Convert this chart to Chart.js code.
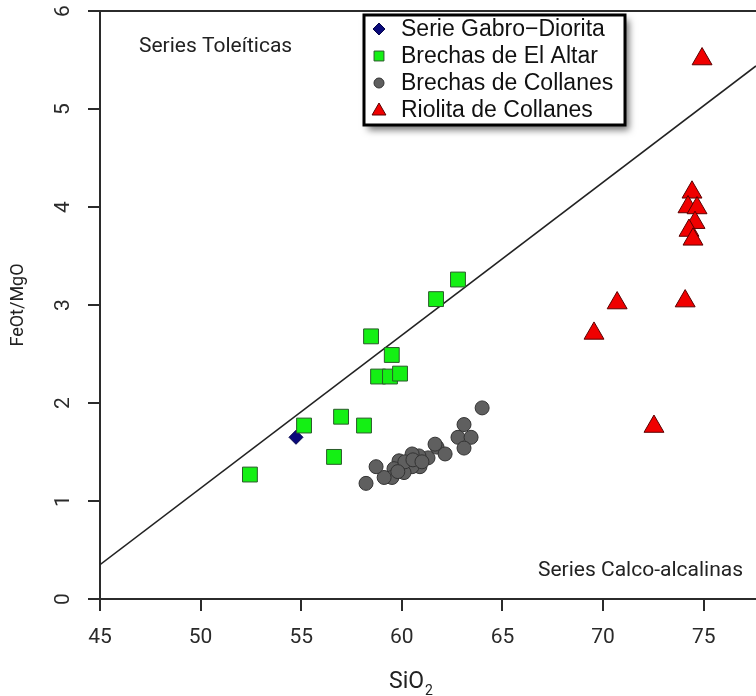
<!DOCTYPE html>
<html>
<head>
<meta charset="utf-8">
<style>
  html, body { margin: 0; padding: 0; background: #fff; overflow: hidden; }
  #wrap { width: 756px; height: 696px; position: relative; }
  #chart { display: block; }
</style>
<script src="https://cdn.jsdelivr.net/npm/chart.js"></script>
</head>
<body>
<div id="wrap"><canvas id="chart"></canvas></div>
<script>
// SiO2 vs FeOt/MgO (Miyashiro diagram)
const xTicks = [45, 50, 55, 60, 65, 70, 75];
const yTicks = [0, 1, 2, 3, 4, 5, 6];

// dividing line between tholeiitic and calc-alkaline series (endpoints)
const lineX = [45, 77.6];
const lineY = [0.35, 5.44];

const gabroX = [54.74];
const gabroY = [1.65];

const altarX = [52.45, 55.14, 56.63, 56.98, 58.12, 58.47, 58.82, 59.50, 59.41, 59.91, 61.70, 62.79];
const altarY = [1.27, 1.77, 1.45, 1.86, 1.77, 2.68, 2.27, 2.49, 2.27, 2.30, 3.06, 3.26];

const collanesX = [63.99, 63.09, 62.79, 63.44, 63.09, 61.75, 61.65, 62.15, 61.30, 60.85, 60.51, 60.90,
                   60.51, 60.11, 59.86, 59.61, 59.51, 59.12, 58.72, 58.22, 60.15, 60.55, 59.80, 61.00];
const collanesY = [1.95, 1.78, 1.65, 1.65, 1.54, 1.55, 1.58, 1.48, 1.44, 1.46, 1.48, 1.35,
                   1.35, 1.29, 1.41, 1.33, 1.24, 1.24, 1.35, 1.18, 1.40, 1.42, 1.30, 1.40];

const riolitaX = [74.92, 69.55, 70.70, 74.08, 72.53, 74.42, 74.22, 74.67, 74.57, 74.27, 74.47];
const riolitaY = [5.51, 2.71, 3.02, 3.04, 1.76, 4.15, 4.00, 3.99, 3.84, 3.76, 3.67];

const seriesLabels = ["Serie Gabro\u2212Diorita", "Brechas de El Altar", "Brechas de Collanes", "Riolita de Collanes"];

const toPoints = (xs, ys) => xs.map((x, i) => ({ x, y: ys[i] }));

const AXIS_COLOR = "#2b2b2b";
const TICK_FONT = { family: "Roboto", size: 21 };

const pointSets = [
  { label: seriesLabels[0], data: toPoints(gabroX, gabroY), pointStyle: "rectRot", pointRadius: 7,
    backgroundColor: "#0a0a7a", borderColor: "#05054a", legendRadius: 6 },
  { label: seriesLabels[1], data: toPoints(altarX, altarY), pointStyle: "rect", pointRadius: 10.5,
    backgroundColor: "#14f014", borderColor: "#2a5a2a", legendRadius: 7 },
  { label: seriesLabels[2], data: toPoints(collanesX, collanesY), pointStyle: "circle", pointRadius: 7,
    backgroundColor: "#5f5f5f", borderColor: "#333333", legendRadius: 5 },
  { label: seriesLabels[3], data: toPoints(riolitaX, riolitaY), pointStyle: "triangle", pointRadius: 11.5,
    backgroundColor: "#f00000", borderColor: "#5a0000", legendRadius: 8 }
];

function drawMarker(ctx, style, r, x, y) {
  ctx.beginPath();
  if (style === "circle") {
    ctx.arc(x, y, r, 0, Math.PI * 2);
  } else if (style === "rect") {
    const s = r * Math.SQRT1_2;
    ctx.rect(x - s, y - s, 2 * s, 2 * s);
  } else if (style === "rectRot") {
    ctx.moveTo(x, y - r);
    ctx.lineTo(x + r, y);
    ctx.lineTo(x, y + r);
    ctx.lineTo(x - r, y);
  } else if (style === "triangle") {
    ctx.moveTo(x, y - r);
    ctx.lineTo(x + r * Math.sin(Math.PI / 3), y + r * 0.5);
    ctx.lineTo(x - r * Math.sin(Math.PI / 3), y + r * 0.5);
  }
  ctx.closePath();
  ctx.fill();
  ctx.stroke();
}

const extrasPlugin = {
  id: "extras",
  afterDraw(chart) {
    const { ctx, chartArea } = chart;
    ctx.save();

    // top frame line
    ctx.strokeStyle = AXIS_COLOR;
    ctx.lineWidth = 2;
    ctx.beginPath();
    ctx.moveTo(chartArea.left, chartArea.top);
    ctx.lineTo(chartArea.right, chartArea.top);
    ctx.stroke();

    // region labels
    ctx.fillStyle = "#222";
    ctx.font = "21px Roboto";
    ctx.textBaseline = "middle";
    ctx.textAlign = "left";
    ctx.fillText("Series Toleíticas", 139, 47);
    ctx.textAlign = "right";
    ctx.fillText("Series Calco-alcalinas", 743, 571);

    // x axis title with subscript
    ctx.textAlign = "left";
    ctx.textBaseline = "alphabetic";
    ctx.font = "23px Roboto";
    ctx.fillText("SiO", 389, 688);
    const w = ctx.measureText("SiO").width;
    ctx.font = "14px Roboto";
    ctx.fillText("2", 389 + w + 1, 695);

    // legend box
    const bx = 364, by = 15, bw = 261, bh = 110;
    ctx.save();
    ctx.shadowColor = "rgba(0,0,0,0.55)";
    ctx.shadowBlur = 7;
    ctx.shadowOffsetX = 4;
    ctx.shadowOffsetY = 5;
    ctx.fillStyle = "#fff";
    ctx.fillRect(bx, by, bw, bh);
    ctx.restore();
    ctx.strokeStyle = "#000";
    ctx.lineWidth = 3;
    ctx.strokeRect(bx, by, bw, bh);

    ctx.font = "23px 'Liberation Sans', Arial, sans-serif";
    ctx.textBaseline = "middle";
    ctx.textAlign = "left";
    pointSets.forEach((set, i) => {
      const y = by + 14 + i * 27;
      ctx.fillStyle = set.backgroundColor;
      ctx.strokeStyle = set.borderColor;
      ctx.lineWidth = 1;
      drawMarker(ctx, set.pointStyle, set.legendRadius, 379, set.pointStyle === "triangle" ? y + 1 : y);
      ctx.fillStyle = "#111";
      ctx.fillText(set.label, 401, y + 1);
    });

    ctx.restore();
  }
};

new Chart(document.getElementById("chart"), {
  type: "scatter",
  data: {
    datasets: [
      {
        type: "line",
        label: "limite",
        data: toPoints(lineX, lineY),
        borderColor: "#222",
        borderWidth: 1.6,
        pointRadius: 0,
        fill: false,
        order: 10
      },
      ...pointSets.map((set, i) => ({
        label: set.label,
        data: set.data,
        pointStyle: set.pointStyle,
        pointRadius: set.pointRadius,
        pointHoverRadius: set.pointRadius,
        backgroundColor: set.backgroundColor,
        borderColor: set.borderColor,
        borderWidth: 1,
        order: 5 - i
      }))
    ]
  },
  options: {
    responsive: true,
    maintainAspectRatio: false,
    animation: false,
    layout: { autoPadding: false, padding: { top: 11, right: 0, left: 0, bottom: 0 } },
    plugins: { legend: { display: false }, tooltip: { enabled: false } },
    scales: {
      x: {
        type: "linear",
        min: 45,
        max: 77.6,
        border: { display: true, color: AXIS_COLOR, width: 2 },
        grid: { drawOnChartArea: false, drawTicks: true, tickLength: 12, color: AXIS_COLOR, lineWidth: 2 },
        ticks: { font: TICK_FONT, color: "#2a2a2a", padding: 14, maxRotation: 0 },
        afterBuildTicks: (scale) => { scale.ticks = xTicks.map((v) => ({ value: v })); },
        afterFit: (scale) => {
          scale.height = 97;
          scale.paddingLeft = 0;
          scale.paddingRight = 0;
        }
      },
      y: {
        type: "linear",
        min: 0,
        max: 6,
        border: { display: true, color: AXIS_COLOR, width: 2 },
        grid: { drawOnChartArea: false, drawTicks: true, tickLength: 12, color: AXIS_COLOR, lineWidth: 2 },
        ticks: { font: TICK_FONT, color: "#2a2a2a", padding: 18, minRotation: 90, maxRotation: 90, crossAlign: "center" },
        afterBuildTicks: (scale) => { scale.ticks = yTicks.map((v) => ({ value: v })); },
        afterFit: (scale) => {
          scale.width = 100;
          scale.paddingTop = 0;
          scale.paddingBottom = 0;
        },
        title: { display: true, text: "FeOt/MgO", font: { family: "Roboto", size: 18 }, color: "#222", padding: { top: 8, bottom: 0 } }
      }
    }
  },
  plugins: [extrasPlugin]
});
</script>
</body>
</html>
